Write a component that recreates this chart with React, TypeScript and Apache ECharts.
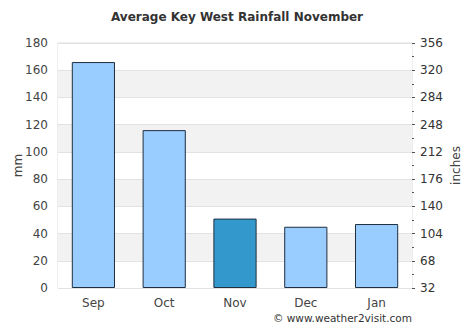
import React, { useEffect, useRef } from "react";
import * as echarts from "echarts";

const categories = ["Sep", "Oct", "Nov", "Dec", "Jan"];
const rainfallMm = [166, 116, 51, 45, 47];
const highlightIndex = 2;
const rightAxisOffset = 32;

export default function App() {
  const ref = useRef<HTMLDivElement>(null);
  useEffect(() => {
    const chart = echarts.init(ref.current!, null, { renderer: "svg" });
    const font = "DejaVu Sans";
    chart.setOption({
      animation: false,
      textStyle: { fontFamily: font },
      title: {
        text: "Average Key West Rainfall November",
        left: "center",
        top: 6,
        textStyle: { fontSize: 12, fontWeight: "bold", color: "#333", fontFamily: font },
      },
      graphic: [
        {
          type: "text",
          right: 62,
          top: 312,
          style: { text: "© www.weather2visit.com", fontSize: 10.5, fill: "#333", fontFamily: font },
        },
      ],
      grid: {
        left: 58,
        right: 62,
        top: 43,
        bottom: 43,
        containLabel: false,
        outerBoundsMode: "none",
        show: true,
        borderColor: "#ddd",
        borderWidth: 1,
        backgroundColor: "transparent",
      },
      xAxis: {
        type: "category",
        data: categories,
        axisLine: { show: false },
        axisTick: { show: false },
        axisLabel: { color: "#444", fontSize: 12, margin: 9, fontFamily: font },
      },
      yAxis: [
        {
          type: "value",
          min: 0,
          max: 180,
          interval: 20,
          name: "mm",
          nameLocation: "middle",
          nameGap: 34,
          nameMoveOverlap: false,
          nameTextStyle: { color: "#444", fontSize: 12, fontFamily: font },
          axisLine: { show: false },
          axisTick: { show: false },
          axisLabel: { color: "#444", fontSize: 12, margin: 10, fontFamily: font },
          splitLine: { show: true, lineStyle: { color: "#e2e2e2" } },
          splitArea: { show: true, areaStyle: { color: ["#ffffff", "#f2f2f2"] } },
        },
        {
          type: "value",
          position: "right",
          min: 0,
          max: 324,
          interval: 36,
          name: "inches",
          nameLocation: "middle",
          nameGap: 38,
          nameMoveOverlap: false,
          nameTextStyle: { color: "#444", fontSize: 12, fontFamily: font },
          axisLine: { show: false },
          axisTick: { show: true, inside: false, length: 3, lineStyle: { color: "#555" } },
          minorTick: { show: true, splitNumber: 2, length: 2, lineStyle: { color: "#555" } },
          axisLabel: {
            color: "#333",
            fontSize: 12,
            margin: 8,
            fontFamily: font,
            formatter: (v: number) => String(v + rightAxisOffset),
          },
          splitLine: { show: false },
        },
      ],
      series: [
        {
          type: "bar",
          data: rainfallMm.map((v, i) => ({
            value: v,
            itemStyle: { color: i === highlightIndex ? "#3399cc" : "#99ccff" },
          })),
          barWidth: "61%",
          itemStyle: { borderColor: "#1f2f3f", borderWidth: 1 },
        },
      ],
    });
    return () => chart.dispose();
  }, []);
  return <div ref={ref} style={{ width: 474, height: 331, margin: -8 }} />;
}
